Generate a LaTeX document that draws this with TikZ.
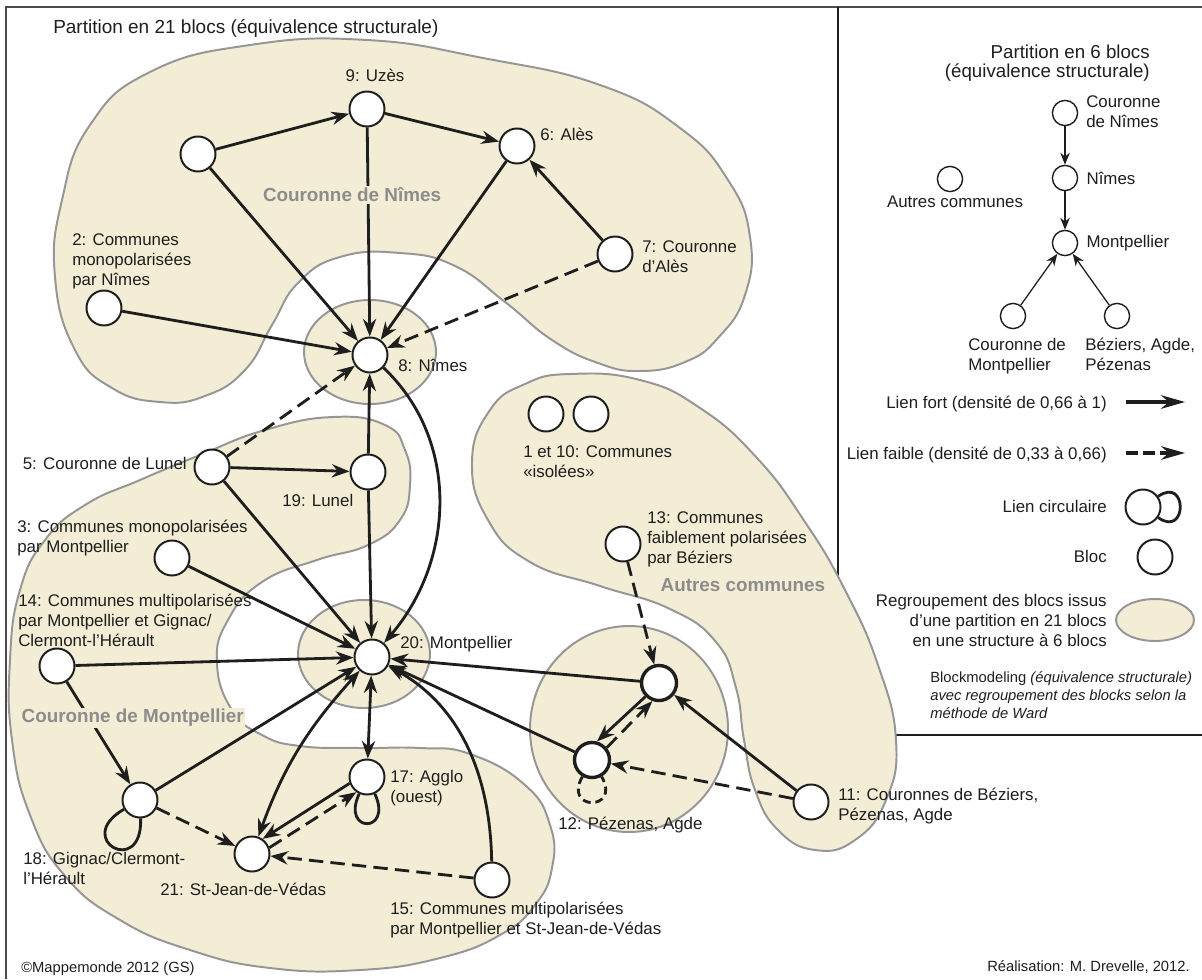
\documentclass[tikz,border=0pt]{standalone}
\usepackage{fontspec}
\setmainfont{Liberation Sans}
\usetikzlibrary{arrows.meta, positioning}

\definecolor{zonefill}{RGB}{242,237,212}
\definecolor{zoneline}{RGB}{150,150,150}
\definecolor{zonetext}{RGB}{140,140,140}
\definecolor{ink}{RGB}{30,30,30}

\begin{document}
\begin{tikzpicture}[
    x=0.025cm, y=0.025cm,
    >={Stealth[length=4.4mm, width=3.3mm]},
    blok/.style={circle, draw=ink, fill=white, line width=1.4pt, minimum size=0.875cm, inner sep=0pt},
    blokthick/.style={blok, line width=2.4pt},
    legblok/.style={circle, draw=ink, fill=white, line width=1pt, minimum size=0.63cm, inner sep=0pt},
    fort/.style={->, draw=ink, line width=2pt},
    faible/.style={fort, dash pattern=on 3.6mm off 1.8mm},
    boucle/.style={draw=ink, line width=2pt},
    petit/.style={-{Stealth[length=3mm, width=2.4mm]}, draw=ink, line width=0.9pt},
    lab/.style={font=\fontsize{12}{14}\selectfont, text=ink, inner sep=0pt, align=left},
    titre/.style={font=\fontsize{13.5}{16}\selectfont, text=ink, inner sep=0pt},
    zone/.style={fill=zonefill, draw=zoneline, line width=1.4pt},
    zonelab/.style={font=\fontsize{13.4}{16}\selectfont\bfseries, text=zonetext, fill=zonefill, inner sep=1pt}
]
\useasboundingbox (0,0) rectangle (1202,-979);

% Frames
\draw [ink!80, line width=1.2pt] (6,-979) -- (6,-7) -- (1202,-7);
\draw [ink, line width=1pt] (838,-7) -- (838,-735) -- (1202,-735);

% Regroupements (6 blocs)
\draw [zone] plot [smooth cycle, tension=0.8] coordinates {
    (55,-277) (62,-200) (90,-125) (150,-72) (250,-45) (367,-40) (483,-58)
    (600,-85) (680,-128) (728,-180) (750,-237) (745,-295) (718,-338)
    (685,-362) (640,-371) (598,-363) (552,-340) (505,-302) (455,-266)
    (400,-253) (340,-257) (298,-283) (272,-325) (245,-370) (205,-396)
    (160,-402) (112,-388) (75,-350)};
\draw [zone] plot [smooth cycle, tension=0.8] coordinates {
    (333,-417) (385,-425) (405,-450) (410,-485) (400,-520) (368,-545)
    (317,-560) (262,-582) (228,-620) (217,-663) (232,-710) (262,-735)
    (300,-746) (360,-748) (420,-748) (470,-754) (525,-785) (550,-825)
    (552,-868) (535,-905) (500,-935) (440,-958) (360,-970) (270,-968)
    (190,-950) (120,-920) (65,-876) (30,-815) (12,-740) (10,-660)
    (20,-590) (45,-540) (85,-505) (140,-480) (200,-455) (265,-430)};
\draw [zone] plot [smooth cycle, tension=0.8] coordinates {
    (570,-374) (640,-380) (700,-408) (757,-458) (805,-522) (845,-590)
    (878,-665) (896,-740) (886,-800) (855,-840) (815,-850) (778,-830)
    (755,-790) (744,-740) (736,-688) (716,-642) (670,-609) (600,-586)
    (530,-562) (488,-520) (472,-462) (490,-410) (525,-384)};
\draw [zone] (370,-352) ellipse [x radius=66, y radius=52];
\draw [zone] (364,-654) ellipse [x radius=66, y radius=54];
\draw [zone] (629,-729) ellipse [x radius=99, y radius=103];

% Blocs (21 blocs)
\node (n9) [blok] at (367,-109) {};
\node (n4) [blok] at (198,-154) {};
\node (n6) [blok] at (517,-146) {};
\node (n7) [blok] at (615,-254) {};
\node (n2) [blok] at (104,-308) {};
\node (n8) [blok] at (370,-355) {};
\node (n5) [blok] at (212,-467) {};
\node (n19) [blok] at (368,-472) {};
\node (n3) [blok] at (172,-558) {};
\node (n14) [blok] at (57,-666) {};
\node (n20) [blok] at (372,-657) {};
\node (n18) [blok] at (140,-800) {};
\node (n21) [blok] at (252,-854) {};
\node (n17) [blok] at (367,-777) {};
\node (n15) [blok] at (492,-880) {};
\node (n1) [blok] at (546,-414) {};
\node (n10) [blok] at (591,-414) {};
\node (n13) [blok] at (623,-544) {};
\node (n16) [blokthick] at (659,-683) {};
\node (n12) [blokthick] at (592,-760) {};
\node (n11) [blok] at (811,-802) {};

% Labels (base = last line)
\node [titre, anchor=base west] at (53,-34) {Partition en 21 blocs (équivalence structurale)};
\node [lab, anchor=base] at (375,-82) {9: Uzès};
\node [lab, anchor=base west] at (540,-140) {6: Alès};
\node [lab, anchor=base west] at (642,-272) {7: Couronne\\d’Alès};
\node [lab, anchor=base west] at (72,-285) {2: Communes\\monopolarisées\\par Nîmes};
\node [lab, anchor=base west] at (398,-371) {8: Nîmes};
\node [lab, anchor=base east] at (187,-469) {5: Couronne de Lunel};
\node [lab, anchor=base west] at (282,-506) {19: Lunel};
\node [lab, anchor=base west] at (17,-552) {3: Communes monopolarisées\\par Montpellier};
\node [lab, anchor=base west] at (18,-646) {14: Communes multipolarisées\\par Montpellier et Gignac/\\Clermont-l’Hérault};
\node [lab, anchor=base west] at (400,-648) {20: Montpellier};
\node [lab, anchor=base west] at (23,-884) {18: Gignac/Clermont-\\l’Hérault};
\node [lab, anchor=base west] at (160,-895) {21: St-Jean-de-Védas};
\node [lab, anchor=base west] at (390,-802) {17: Agglo\\(ouest)};
\node [lab, anchor=base west] at (390,-934) {15: Communes multipolarisées\\par Montpellier et St-Jean-de-Védas};
\node [lab, anchor=base west] at (523,-477) {1 et 10: Communes\\«isolées»};
\node [lab, anchor=base west] at (647,-563) {13: Communes\\faiblement polarisées\\par Béziers};
\node [lab, anchor=base west] at (558,-829) {12: Pézenas, Agde};
\node [lab, anchor=base west] at (838,-820) {11: Couronnes de Béziers,\\Pézenas, Agde};
\node [lab, font=\fontsize{10.5}{12}\selectfont, anchor=base west] at (21,-972) {©Mappemonde 2012 (GS)};
\node [lab, font=\fontsize{10.5}{12}\selectfont, anchor=base east] at (1190,-971) {Réalisation: M. Drevelle, 2012.};

% Liens forts
\draw [fort] (n4) -- (n9);
\draw [fort] (n9) -- (n6);
\draw [fort] (n4) -- (n8);
\draw [fort] (n9) -- (n8);
\draw [fort] (n6) -- (n8);
\draw [fort] (n7) -- (n6);
\draw [fort] (n2) -- (n8);
\draw [fort] (n19) -- (n8);
\draw [fort] (n8) .. controls (460,-440) and (455,-560) .. (n20);
\draw [fort] (n5) -- (n19);
\draw [fort] (n5) -- (n20);
\draw [fort] (n19) -- (n20);
\draw [fort] (n3) -- (n20);
\draw [fort] (n14) -- (n20);
\draw [fort] (n14) -- (n18);
\draw [fort] (n18) -- (n20);
\draw [fort, <->] (n21) to [out=70, in=228] (n20);
\draw [fort, <->] (n20) -- (n17);
\draw [fort] (n17.200) -- (n21.55);
\draw [fort] (n15) .. controls (490,-760) and (450,-700) .. (n20);
\draw [fort] (n16) -- (n20);
\draw [fort] (n12) -- (n20);
\draw [fort] (n16.225) -- (n12.75);
\draw [fort] (n11) -- (n16);

% Liens faibles
\draw [faible] (n7) -- (n8);
\draw [faible] (n5) -- (n8);
\draw [faible] (n18) -- (n21);
\draw [faible] (n21.20) -- (n17.235);
\draw [faible] (n15) -- (n21);
\draw [faible] (n13) -- (n16);
\draw [faible] (n12.40) -- (n16.250);
\draw [faible] (n11) -- (n12);

% Liens circulaires
\draw [boucle] (n18) to [loop, out=210, in=272, min distance=1.5cm] (n18);
\draw [boucle] (n17) to [loop, out=-115, in=-65, min distance=1.1cm] (n17);
\draw [boucle, dash pattern=on 2mm off 1.2mm] (n12) to [loop, out=-120, in=-60, min distance=1cm] (n12);

% Noms des regroupements
\node [zonelab] at (352,-195) {Couronne de Nîmes};
\node [zonelab, anchor=west] at (20,-718) {Couronne de Montpellier};
\node [zonelab, anchor=west, fill=none] at (659,-585) {Autres communes};

% Legende: partition en 6 blocs
\node [lab, font=\fontsize{13.3}{13.5}\selectfont, anchor=base east, align=right] at (1150,-77) {Partition en 6 blocs\\(équivalence structurale)};
\node (lcn) [legblok] at (1065,-113) {};
\node (lnim) [legblok] at (1065,-178) {};
\node (lmtp) [legblok] at (1065,-243) {};
\node (laut) [legblok] at (950,-179) {};
\node (lcmtp) [legblok] at (1013,-316) {};
\node (lbez) [legblok] at (1117,-316) {};
\node [lab, anchor=base west] at (1086,-127) {Couronne\\de Nîmes};
\node [lab, right=0.2cm of lnim] {Nîmes};
\node [lab, right=0.2cm of lmtp] {Montpellier};
\node [lab, anchor=base] at (955,-207) {Autres communes};
\node [lab, anchor=base west] at (968,-370) {Couronne de\\Montpellier};
\node [lab, anchor=base west] at (1085,-370) {Béziers, Agde,\\Pézenas};
\draw [petit] (lcn) -- (lnim);
\draw [petit] (lnim) -- (lmtp);
\draw [petit] (lcmtp) -- (lmtp);
\draw [petit] (lbez) -- (lmtp);

% Legende: symboles
\coordinate (fortA) at (1126,-402);
\coordinate (fortB) at (1185,-402);
\coordinate (faibA) at (1126,-453);
\coordinate (faibB) at (1185,-453);
\node [lab, anchor=base east] at (1107,-408) {Lien fort (densité de 0,66 à 1)};
\draw [-{Stealth[length=6mm, width=3.4mm]}, draw=ink, line width=2.2pt] (fortA) -- (fortB);
\node [lab, anchor=base east] at (1107,-459) {Lien faible (densité de 0,33 à 0,66)};
\draw [-{Stealth[length=6mm, width=3.4mm]}, draw=ink, line width=2.2pt, dash pattern=on 3mm off 1.3mm] (faibA) -- (faibB);
\node [lab, anchor=base east] at (1107,-512) {Lien circulaire};
\node (lcirc) [blok] at (1143,-507) {};
\draw [boucle] (lcirc) to [loop, out=35, in=-35, min distance=0.9cm] (lcirc);
\node [lab, anchor=base east] at (1107,-562) {Bloc};
\node (lbloc) [blok] at (1155,-557) {};
\node [lab, anchor=base east, align=right] at (1107,-646) {Regroupement des blocs issus\\d’une partition en 21 blocs\\en une structure à 6 blocs};
\draw [zone] (1155,-620) ellipse [x radius=39, y radius=21];
\node [lab, font=\fontsize{10.5}{12.8}\selectfont, anchor=base west] at (930,-718) {Blockmodeling \textit{(équivalence structurale)}\\\textit{avec regroupement des blocks selon la}\\\textit{méthode de Ward}};

\end{tikzpicture}
\end{document}
